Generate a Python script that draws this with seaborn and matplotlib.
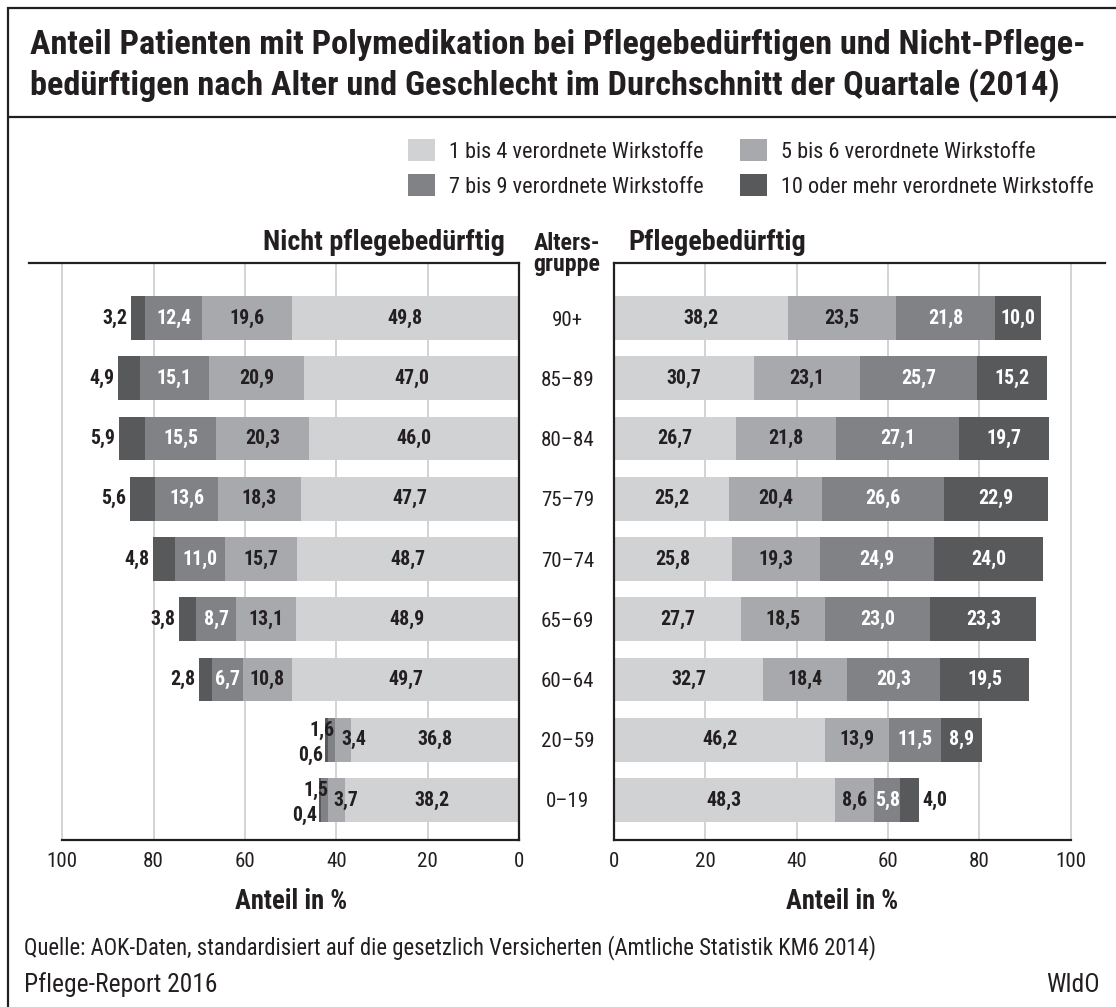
import numpy as np
import pandas as pd
import matplotlib
matplotlib.use("Agg")
import matplotlib.pyplot as plt
import seaborn as sns
from matplotlib import font_manager as fm
from matplotlib import patheffects as pe
from matplotlib.patches import Patch, Rectangle
from matplotlib.lines import Line2D

# ---------------- data ----------------
ages = ["90+", "85–89", "80–84", "75–79", "70–74", "65–69", "60–64", "20–59", "0–19"]
series_names = ["1 bis 4 verordnete Wirkstoffe", "5 bis 6 verordnete Wirkstoffe",
                "7 bis 9 verordnete Wirkstoffe", "10 oder mehr verordnete Wirkstoffe"]

nicht_1_4 = [49.8, 47.0, 46.0, 47.7, 48.7, 48.9, 49.7, 36.8, 38.2]
nicht_5_6 = [19.6, 20.9, 20.3, 18.3, 15.7, 13.1, 10.8, 3.4, 3.7]
nicht_7_9 = [12.4, 15.1, 15.5, 13.6, 11.0, 8.7, 6.7, 1.6, 1.5]
nicht_10p = [3.2, 4.9, 5.9, 5.6, 4.8, 3.8, 2.8, 0.6, 0.4]

pfl_1_4 = [38.2, 30.7, 26.7, 25.2, 25.8, 27.7, 32.7, 46.2, 48.3]
pfl_5_6 = [23.5, 23.1, 21.8, 20.4, 19.3, 18.5, 18.4, 13.9, 8.6]
pfl_7_9 = [21.8, 25.7, 27.1, 26.6, 24.9, 23.0, 20.3, 11.5, 5.8]
pfl_10p = [10.0, 15.2, 19.7, 22.9, 24.0, 23.3, 19.5, 8.9, 4.0]

x_ticks = [0, 20, 40, 60, 80, 100]

colors = ["#d1d2d4", "#a7a9ac", "#808285", "#58595b"]
DARK = "#231f20"

# ---------------- fonts ----------------
sns.set_theme(style="white")


def wnum(w):
    if isinstance(w, str):
        return fm.weight_dict.get(w, 400)
    return int(w)


entries = fm.fontManager.ttflist
names = {f.name for f in entries}
cands = {}
for f in entries:
    if any(k in f.name for k in ("Narrow", "Condensed", "Cond")):
        cands.setdefault(f.name, set()).add(wnum(f.weight))
prefs = ["Liberation Sans Narrow", "Roboto Condensed", "Open Sans Condensed",
         "Noto Sans Condensed", "DejaVu Sans Condensed", "Arial Narrow"]


def rank(n):
    ws = cands[n]
    has_bold = max(ws) >= 600
    has_reg = min(ws) <= 450
    pref = next((i for i, p in enumerate(prefs) if n.startswith(p)), len(prefs))
    return (not has_bold, not has_reg, pref, n)


fam = []
HAS_BOLD = True
if cands:
    best = sorted(cands, key=rank)[0]
    fam.append(best)
    HAS_BOLD = max(cands[best]) >= 600
fam += [f for f in ["Roboto", "Open Sans", "DejaVu Sans"] if f in names]
plt.rcParams["font.family"] = fam
plt.rcParams["font.stretch"] = "condensed"
plt.rcParams["text.color"] = DARK


def bold(color=DARK, lw=0.9):
    if HAS_BOLD:
        return dict(fontweight="bold")
    return dict(path_effects=[pe.withStroke(linewidth=lw, foreground=color)])


W, H = 1116, 1007
fig = plt.figure(figsize=(W / 100, H / 100), dpi=100)
fig.patch.set_facecolor("white")
renderer = fig.canvas.get_renderer()


def fit_size(s, target_px, is_bold=False, base=15.0):
    kw = dict(fontweight="bold") if (is_bold and HAS_BOLD) else {}
    t = fig.text(0, 0, s, fontsize=base, **kw)
    w = t.get_window_extent(renderer).width
    t.remove()
    if is_bold and not HAS_BOLD:
        w *= 1.04
    return base * target_px / w


ax_top, ax_bot = 263, 840
axL = fig.add_axes([29 / W, 1 - ax_bot / H, (519 - 29) / W, (ax_bot - ax_top) / H])
axR = fig.add_axes([614 / W, 1 - ax_bot / H, (1105 - 614) / W, (ax_bot - ax_top) / H])


def fmt(v):
    return f"{v:.1f}".replace(".", ",")


def draw(ax, cols):
    vals = np.array(cols)
    cum = np.cumsum(vals, axis=0)
    for k in range(3, -1, -1):
        df = pd.DataFrame({"age": ages, "val": cum[k]})
        sns.barplot(data=df, x="val", y="age", color=colors[k], orient="h",
                    width=0.73, ax=ax, saturation=1, errorbar=None,
                    edgecolor="none", linewidth=0, order=ages)
    return vals, cum


valsL, cumL = draw(axL, [nicht_1_4, nicht_5_6, nicht_7_9, nicht_10p])
valsR, cumR = draw(axR, [pfl_1_4, pfl_5_6, pfl_7_9, pfl_10p])

tick_fs = min(16.5, fit_size("100", 31))
for ax in (axL, axR):
    ax.set_ylim(8.664, -0.913)
    ax.set_xticks(x_ticks)
    ax.set_xticklabels([str(t) for t in x_ticks])
    ax.set_axisbelow(True)
    ax.grid(axis="x", color="#d0d0d0", lw=1.3)
    ax.grid(axis="y", visible=False)
    ax.tick_params(axis="x", length=0, pad=8.5, labelsize=tick_fs, colors=DARK)
    ax.set_ylabel("")
    for s in ax.spines.values():
        s.set_color(DARK)
        s.set_linewidth(1.6)
    ax.spines["bottom"].set_bounds(0, 100)

axL.set_xlim(107.3, 0)
axR.set_xlim(0, 107.5)
axL.spines["left"].set_visible(False)
axR.spines["right"].set_visible(False)

# age labels centred between the panels
axL.yaxis.tick_right()
axL.set_yticks(range(len(ages)))
axL.set_yticklabels(ages)
axL.tick_params(axis="y", length=0, pad=35, labelsize=tick_fs, colors=DARK,
                right=True, labelright=True, left=False, labelleft=False)
for lab in axL.get_yticklabels():
    lab.set_ha("center")
axR.tick_params(axis="y", length=0, left=False, labelleft=False)

xl_fs = fit_size("Anteil in %", 112, True)
for ax, xf in ((axL, (107.3 - 50) / 107.3), (axR, 50 / 107.5)):
    ax.set_xlabel("Anteil in %", fontsize=xl_fs, color=DARK, **bold())
    ax.xaxis.set_label_coords(xf, -0.083)

# ---------------- bar labels ----------------
bar_fs = fit_size("49,8", 35, True)


def lbl(ax, x, y, s, color, ha="center", off=None):
    kw = dict(fontsize=bar_fs, va="center", ha=ha, color=color, **bold(color, 0.8))
    if off is None:
        ax.text(x, y, s, **kw)
    else:
        ax.annotate(s, (x, y), xytext=off, textcoords="offset points", **kw)


for i in range(len(ages)):
    v = valsL[:, i]
    c = cumL[:, i]
    tiny = v[2] < 2
    for k in range(4):
        mid = c[k] - v[k] / 2
        if k == 3:
            lbl(axL, c[3], i, fmt(v[k]), DARK, "right", (-1.5, -11) if tiny else (-2.5, 0))
        elif k == 2:
            if tiny:
                lbl(axL, c[3], i, fmt(v[k]), DARK, "right", (6.5, 7))
            else:
                lbl(axL, mid, i, fmt(v[k]), "white")
        elif k == 1 and v[k] < 5:
            lbl(axL, c[1], i, fmt(v[k]), DARK, "left", (4.3, 0))
        else:
            lbl(axL, mid, i, fmt(v[k]), DARK)

for i in range(len(ages)):
    v = valsR[:, i]
    c = cumR[:, i]
    for k in range(4):
        mid = c[k] - v[k] / 2
        if k == 3 and v[k] < 5:
            lbl(axR, c[3], i, fmt(v[k]), DARK, "left", (3, 0))
        else:
            lbl(axR, mid, i, fmt(v[k]), "white" if k >= 2 else DARK)

# ---------------- headers ----------------
hd_fs = fit_size("Nicht pflegebedürftig", 242, True)
ag_fs = fit_size("gruppe", 67, True)
fig.text(505 / W, 1 - 243 / H, "Nicht pflegebedürftig", ha="right", va="center",
         fontsize=hd_fs, **bold(DARK, 1.0))
fig.text(567 / W, 1 - 243 / H, "Alters-", ha="center", va="center", fontsize=ag_fs, **bold())
fig.text(567 / W, 1 - 265 / H, "gruppe", ha="center", va="center", fontsize=ag_fs, **bold())
fig.text(628 / W, 1 - 243 / H, "Pflegebedürftig", ha="left", va="center",
         fontsize=hd_fs, **bold(DARK, 1.0))

# legend
lg_fs = fit_size(series_names[0], 254)
px = lg_fs * 100 / 72
handles = [Patch(facecolor=colors[k], edgecolor="none", label=series_names[k]) for k in (0, 2, 1, 3)]
fig.legend(handles=handles, ncol=2, loc="upper left", bbox_to_anchor=(408 / W, 1 - 139 / H),
           frameon=False, fontsize=lg_fs, handlelength=27 / px, handleheight=26 / px,
           handletextpad=14 / px, columnspacing=36 / px, labelspacing=0.5, borderaxespad=0,
           borderpad=0)

# ---------------- title, frame, footer ----------------
t1 = "Anteil Patienten mit Polymedikation bei Pflegebedürftigen und Nicht-Pflege-"
t2 = "bedürftigen nach Alter und Geschlecht im Durchschnitt der Quartale (2014)"
ti_fs = fit_size(t1, 1055, True)
fig.text(30 / W, 1 - 45 / H, t1, ha="left", va="center", fontsize=ti_fs, **bold(DARK, 1.2))
fig.text(30 / W, 1 - 85 / H, t2, ha="left", va="center", fontsize=ti_fs, **bold(DARK, 1.2))

fig.add_artist(Rectangle((8 / W, -0.02), 1.05, 1.02 - 8 / H, transform=fig.transFigure,
                         fill=False, edgecolor=DARK, lw=1.6))
fig.add_artist(Line2D([8 / W, 1.0], [1 - 117 / H, 1 - 117 / H], transform=fig.transFigure,
                      color=DARK, lw=1.6))

src = "Quelle: AOK-Daten, standardisiert auf die gesetzlich Versicherten (Amtliche Statistik KM6 2014)"
fig.text(24 / W, 1 - 948 / H, src, ha="left", va="center", fontsize=fit_size(src, 852))
ft_fs = fit_size("Pflege-Report 2016", 194)
fig.text(24 / W, 1 - 985 / H, "Pflege-Report 2016", ha="left", va="center", fontsize=ft_fs)
fig.text(1100 / W, 1 - 985 / H, "WIdO", ha="right", va="center", fontsize=ft_fs)

fig.savefig("out.png", dpi=100)
